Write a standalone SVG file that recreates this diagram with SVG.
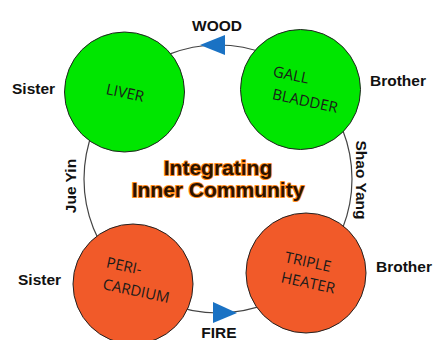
<svg xmlns="http://www.w3.org/2000/svg" width="434" height="340" viewBox="0 0 434 340">
  <style>
    .ring { fill: none; stroke: #444; stroke-width: 1.2; }
    .organ { stroke: #222; stroke-width: 1; }
    .wood { fill: #00e600; }
    .fire { fill: #f15a29; }
    .arrow { fill: #1a72c4; }
    .lbl { font-family: "Liberation Sans", Arial, sans-serif; font-weight: bold; font-size: 15.5px; fill: #111; }
    .organ-text { font-family: "Open Sans", "DejaVu Sans", sans-serif; font-weight: 400; font-size: 15px; fill: #1a1a1a; text-anchor: middle; }
    .title { font-family: "Liberation Sans", Arial, sans-serif; font-weight: bold; font-size: 21px; text-anchor: middle; fill: #2a1200; stroke: #ff8a1a; stroke-width: 2; paint-order: stroke; stroke-linejoin: round; }
  </style>

  <rect width="434" height="340" fill="#ffffff"/>

  <!-- connecting ring and flow arrows -->
  <g id="connectors">
    <circle class="ring" cx="218" cy="179" r="134"/>
    <polygon class="arrow" points="200,45 225,35 225,55"/>
    <polygon class="arrow" points="237,313 213,302 213,323"/>
  </g>

  <g id="liver">
    <circle class="organ wood" cx="124.5" cy="92" r="60"/>
    <text class="organ-text" transform="translate(124,98) rotate(12)">LIVER</text>
  </g>

  <g id="gall-bladder">
    <circle class="organ wood" cx="300.5" cy="89.5" r="60"/>
    <text class="organ-text" transform="translate(290,80) rotate(12)">GALL</text>
    <text class="organ-text" transform="translate(304,106) rotate(12)">BLADDER</text>
  </g>

  <g id="pericardium">
    <circle class="organ fire" cx="133" cy="284" r="60"/>
    <text class="organ-text" transform="translate(123,271) rotate(12)">PERI-</text>
    <text class="organ-text" transform="translate(135,296) rotate(12)">CARDIUM</text>
  </g>

  <g id="triple-heater">
    <circle class="organ fire" cx="306" cy="273" r="60"/>
    <text class="organ-text" transform="translate(307,267) rotate(12)">TRIPLE</text>
    <text class="organ-text" transform="translate(307,288) rotate(12)">HEATER</text>
  </g>

  <g id="labels">
    <text class="lbl" x="217" y="31" text-anchor="middle">WOOD</text>
    <text class="lbl" x="219" y="338" text-anchor="middle">FIRE</text>
    <text class="lbl" x="12" y="94">Sister</text>
    <text class="lbl" x="370" y="86">Brother</text>
    <text class="lbl" x="18" y="285">Sister</text>
    <text class="lbl" x="376" y="272">Brother</text>
    <text class="lbl" text-anchor="middle" transform="translate(76,186) rotate(-90)">Jue Yin</text>
    <text class="lbl" text-anchor="middle" transform="translate(356,180) rotate(90)">Shao Yang</text>
  </g>

  <g id="title">
    <text class="title" x="218" y="175">Integrating</text>
    <text class="title" x="218" y="197">Inner Community</text>
  </g>
</svg>
